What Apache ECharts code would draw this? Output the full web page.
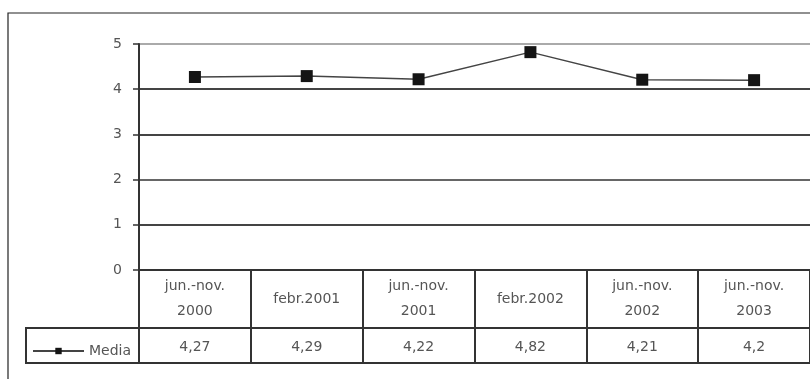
<!DOCTYPE html>
<html>
<head>
<meta charset="utf-8">
<script src="https://cdn.jsdelivr.net/npm/echarts@6/dist/echarts.min.js"></script>
<style>
  html, body { margin: 0; padding: 0; background: #fff; }
  #chart { width: 810px; height: 379px; }
</style>
</head>
<body>
<div id="chart"></div>
<script>
// periodos y medias
var categories = ['jun.-nov.\n2000', 'febr.2001', 'jun.-nov.\n2001', 'febr.2002', 'jun.-nov.\n2002', 'jun.-nov.\n2003'];
var mediaValues = [4.27, 4.29, 4.22, 4.82, 4.21, 4.2];
var valueLabels = ['4,27', '4,29', '4,22', '4,82', '4,21', '4,2'];
var yTicks = [0, 1, 2, 3, 4, 5];

var FONT = 'DejaVu Sans, sans-serif';
var ink = '#555';

var chart = echarts.init(document.getElementById('chart'), null, { renderer: 'canvas' });

var option = {
  animation: false,
  backgroundColor: '#fff',
  grid: { left: 139, top: 44, right: -4, bottom: 109 },
  legend: {
    left: 27,
    top: 339,
    itemWidth: 51,
    itemHeight: 8,
    itemGap: 4,
    textStyle: { fontFamily: FONT, fontSize: 14, color: ink },
    data: ['Media']
  },
  xAxis: [
    {
      type: 'category',
      data: categories,
      position: 'bottom',
      axisLine: { show: true, lineStyle: { color: '#333', width: 2 } },
      axisTick: { show: true, length: 93, lineStyle: { color: '#333', width: 2 } },
      axisLabel: {
        margin: 29,
        verticalAlign: 'middle',
        lineHeight: 25,
        fontFamily: FONT, fontSize: 14, color: ink
      }
    },
    {
      type: 'category',
      data: valueLabels,
      position: 'bottom',
      offset: 58,
      axisLine: { show: true, lineStyle: { color: '#333', width: 2 } },
      axisTick: { show: false },
      axisLabel: {
        margin: 19,
        verticalAlign: 'middle',
        fontFamily: FONT, fontSize: 14, color: ink
      }
    },
    {
      type: 'category',
      data: categories,
      position: 'bottom',
      offset: 93,
      axisLine: { show: true, lineStyle: { color: '#333', width: 2 } },
      axisTick: { show: false },
      axisLabel: { show: false }
    }
  ],
  yAxis: {
    type: 'value',
    min: yTicks[0],
    max: yTicks[yTicks.length - 1],
    interval: 1,
    axisLine: { show: true, lineStyle: { color: '#333', width: 2 } },
    axisTick: { show: true, length: 6, lineStyle: { color: '#333', width: 1.5 } },
    axisLabel: { margin: 17, fontFamily: FONT, fontSize: 14, color: ink },
    splitLine: {
      show: true,
      lineStyle: { color: ['#444', '#444', '#666', '#444', '#444', '#aaa'], width: 2 }
    }
  },
  series: [{
    name: 'Media',
    type: 'line',
    xAxisIndex: 0,
    data: mediaValues,
    symbol: 'rect',
    symbolSize: 12,
    lineStyle: { color: '#444', width: 1.5 },
    itemStyle: { color: '#151515' }
  }],
  graphic: [
    {
      type: 'rect',
      shape: { x: 8, y: 13, width: 830, height: 400 },
      style: { fill: 'none', stroke: '#222', lineWidth: 1.2 },
      z: -1
    },
    {
      type: 'rect',
      shape: { x: 26, y: 328, width: 113, height: 35 },
      style: { fill: 'none', stroke: '#333', lineWidth: 2 }
    }
  ]
};

chart.setOption(option);
</script>
</body>
</html>
